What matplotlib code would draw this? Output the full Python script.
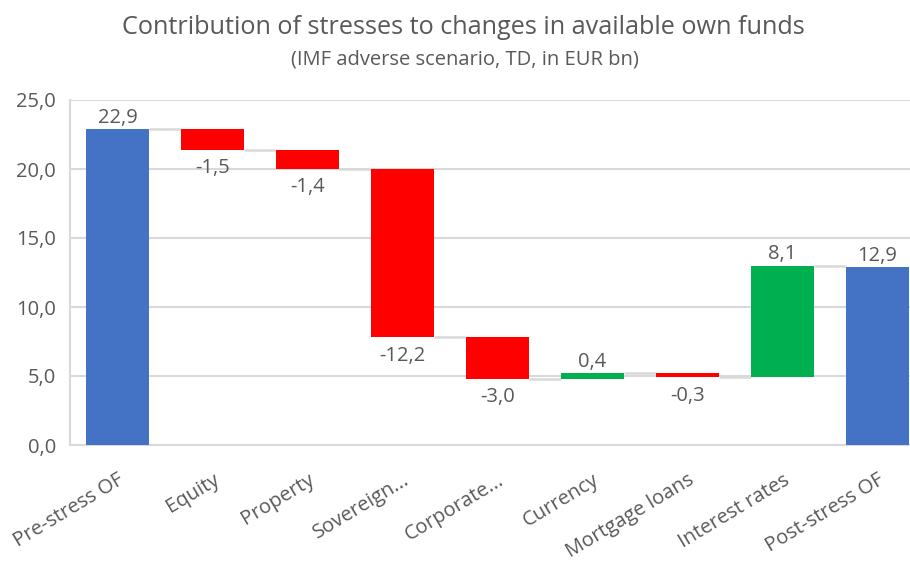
import numpy as np
import matplotlib
matplotlib.use("Agg")
import matplotlib.pyplot as plt
import matplotlib.transforms as mtransforms

plt.rcParams['font.family'] = ['Open Sans', 'DejaVu Sans']

categories = ["Pre-stress OF", "Equity", "Property", "Sovereign...", "Corporate...",
              "Currency", "Mortgage loans", "Interest rates", "Post-stress OF"]
start_value = 22.9
changes = [-1.5, -1.4, -12.2, -3.0, 0.4, -0.3, 8.1]
end_value = 12.9
yticks = [0, 5, 10, 15, 20, 25]

BLUE = "#4472C4"
RED = "#FF0000"
GREEN = "#00B050"
GREY_TXT = "#595959"
GRID = "#D9D9D9"


def fmt(v):
    return f"{v:.1f}".replace(".", ",")


# waterfall geometry: bottoms and heights for every bar
levels = [start_value]
for c in changes:
    levels.append(round(levels[-1] + c, 1))
bottoms = [0.0]
heights = [start_value]
colors = [BLUE]
for i, c in enumerate(changes):
    bottoms.append(min(levels[i], levels[i + 1]))
    heights.append(abs(c))
    colors.append(GREEN if c > 0 else RED)
bottoms.append(0.0)
heights.append(end_value)
colors.append(BLUE)
values = [start_value] + changes + [end_value]

fig = plt.figure(figsize=(9.10, 5.63), dpi=100)
ax = fig.add_axes([70 / 910, 118 / 563, 855 / 910, 345 / 563])

x = np.arange(len(categories))
width = 0.66
ax.bar(x, heights, width, bottom=bottoms, color=colors, zorder=3)

# connector lines between consecutive bars
for i in range(len(categories) - 1):
    lvl = levels[i]
    ax.plot([x[i] + width / 2, x[i + 1] - width / 2], [lvl, lvl],
            color=GRID, lw=1.8, zorder=2, solid_capstyle="butt")

# value labels
for i, v in enumerate(values):
    top = bottoms[i] + heights[i]
    if v >= 0:
        ax.annotate(fmt(v), (x[i], top), xytext=(0, 1), textcoords="offset points",
                    ha="center", va="bottom", fontsize=14.5, color=GREY_TXT)
    else:
        ax.annotate(fmt(v), (x[i], bottoms[i]), xytext=(0, -6), textcoords="offset points",
                    ha="center", va="top", fontsize=14.5, color=GREY_TXT)

ax.set_xlim(-0.5, len(categories) - 0.5)
ax.set_ylim(0, 25)
ax.set_yticks(yticks)
ax.set_yticklabels([fmt(t) for t in yticks], fontsize=14.5, color=GREY_TXT)
ax.set_xticks(x)
ax.set_xticklabels(categories, rotation=31, ha="right", rotation_mode="anchor",
                   fontsize=14.5, color=GREY_TXT)
# nudge rotated category labels slightly left
shift = mtransforms.ScaledTranslation(-7 / 100, 0, fig.dpi_scale_trans)
for lbl in ax.get_xticklabels():
    lbl.set_transform(lbl.get_transform() + shift)
ax.tick_params(axis="both", length=0)
ax.tick_params(axis="y", pad=10)
ax.tick_params(axis="x", pad=18)
ax.grid(axis="y", color=GRID, lw=1.5, zorder=0)
for side in ["top", "right"]:
    ax.spines[side].set_visible(False)
for side in ["left", "bottom"]:
    ax.spines[side].set_color(GRID)
    ax.spines[side].set_linewidth(1.5)

fig.text(463 / 910, 1 - 28 / 563, "Contribution of stresses to changes in available own funds",
         ha="center", va="center", fontsize=18.2, color=GREY_TXT)
fig.text(465 / 910, 1 - 60 / 563, "(IMF adverse scenario, TD, in EUR bn)",
         ha="center", va="center", fontsize=14.5, color=GREY_TXT)

fig.savefig("out.png", dpi=100)
